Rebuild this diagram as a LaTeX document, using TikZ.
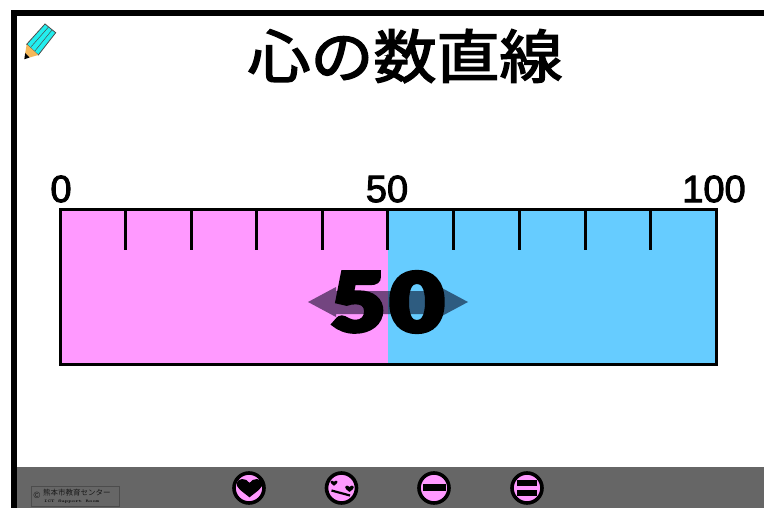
\documentclass[tikz,border=0pt]{standalone}
\usepackage{fontspec}
\setmainfont{Liberation Sans}
\newfontfamily\cjk{Noto Sans CJK JP}
\newfontfamily\cjkb[FakeBold=2.5]{Noto Sans CJK JP}
\newfontfamily\heavy[FakeBold=5]{Lato Black}
\newfontfamily\semi[FakeBold=2.5]{Liberation Sans}
\definecolor{pinkfill}{HTML}{FF99FF}
\definecolor{bluefill}{HTML}{66CCFF}
\definecolor{barfill}{HTML}{666666}
\definecolor{pencilbody}{HTML}{22EEEE}
\definecolor{pencilwood}{HTML}{F5B85A}
\tikzset{
  scalelabel/.style={font=\fontsize{38}{38}\semi, text=black, inner sep=0pt, anchor=center},
  tickline/.style={line width=3pt, black},
  btn/.style={circle, draw=black, line width=3.6pt, fill=pinkfill, minimum size=30pt, inner sep=0pt},
  bigdigit/.style={font=\fontsize{81}{81}\heavy, inner sep=0pt, anchor=center, xscale=1.16},
}
\newcommand{\heartat}[3]{% x,y,scale
  \fill[black] (#1,#2+#3*0.85) .. controls (#1-#3*0.7,#2+#3*0.3) and (#1-#3*1.2,#2) .. (#1-#3*1.1,#2-#3*0.4)
   .. controls (#1-#3*1.0,#2-#3*0.85) and (#1-#3*0.3,#2-#3*0.85) .. (#1,#2-#3*0.4)
   .. controls (#1+#3*0.3,#2-#3*0.85) and (#1+#3*1.0,#2-#3*0.85) .. (#1+#3*1.1,#2-#3*0.4)
   .. controls (#1+#3*1.2,#2) and (#1+#3*0.7,#2+#3*0.3) .. (#1,#2+#3*0.85) -- cycle;}
\begin{document}
\begin{tikzpicture}[x=1pt,y=-1pt]
\useasboundingbox (0,0) rectangle (764,508);
\fill[white] (0,0) rectangle (764,508);
% frame and bottom bar
\fill[barfill] (14,467) rectangle (764,508);
\fill[black] (11,10) rectangle (764,16);
\fill[black] (11,10) rectangle (17,508);
% pencil
\fill[pencilbody] (45,24) -- (55.7,32.7) -- (38.3,55) -- (26.7,44.3) -- cycle;
\draw[black!70, line width=0.5pt] (48.5,27) -- (30.5,47.5) (52,30) -- (34.5,51.5);
\draw[black!70, line width=0.8pt] (45,24) -- (55.7,32.7) -- (38.3,55) -- (26.7,44.3) -- cycle;
\fill[pencilwood] (26.7,44.3) -- (38.3,55) -- (29.5,57.5) -- (25.2,53) -- cycle;
\fill[black] (25.2,53) -- (29.5,57.5) -- (24.3,59.3) -- cycle;
% title
\node[font=\fontsize{63}{63}\cjkb, inner sep=0pt, anchor=center, yscale=0.92] (title) at (405,56) {心の数直線};
% number line
\fill[pinkfill] (60,210) rectangle (387.5,364);
\fill[bluefill] (387.5,210) rectangle (716,364);
\foreach \x in {125,191,256,322,387.5,453,519,585,650}
  \draw[tickline] (\x,210) -- (\x,250);
\draw[black, line width=3pt] (60,210) rectangle (716,364);
\node[scalelabel] (l0) at (61,189) {0};
\node[scalelabel] (l50) at (387,189) {50};
\node[scalelabel] (l100) at (714,189) {100};
% slider arrows
\fill[black!90!blue, opacity=0.55] (308,302) -- (336,287) -- (336,291) -- (440,291) -- (440,287) -- (468,302) -- (440,317) -- (440,314) -- (336,314) -- (336,317) -- cycle;
\node[bigdigit] (value5) at (358,302) {5};
\node[bigdigit] (value0) at (417,302) {0};
% credit
\draw[black!70, line width=0.6pt, fill=barfill] (31,486) rectangle (119,506);
\node[font=\fontsize{9}{9}\selectfont, text=black!90, inner sep=0pt] (c) at (37,495.5) {©};
\node[font=\fontsize{7.5}{7.5}\cjk, text=black!90, inner sep=0pt, anchor=west] (org) at (43,492.5) {熊本市教育センター};
\node[font=\fontsize{6.5}{6.5}\ttfamily\selectfont, text=black, inner sep=0pt, anchor=west, yscale=0.6] (room) at (44,501.5) {ICT Support Room};
% buttons
\node[btn] (b1) at (249,488) {};
\node[btn] (b2) at (341.5,488) {};
\node[btn] (b3) at (434,488) {};
\node[btn] (b4) at (527,488) {};
\heartat{249.5}{487.5}{11.5}
\heartat{334}{483}{3.2}
\heartat{349.5}{488.5}{4}
\draw[black, line width=2.2pt] (331.5,490.5) -- (350,495.5);
\fill[black] (423,484) rectangle (445.5,490.5);
\fill[black] (517,479.5) rectangle (537,485.5);
\fill[black] (517,490) rectangle (537,496);
\end{tikzpicture}
\end{document}
